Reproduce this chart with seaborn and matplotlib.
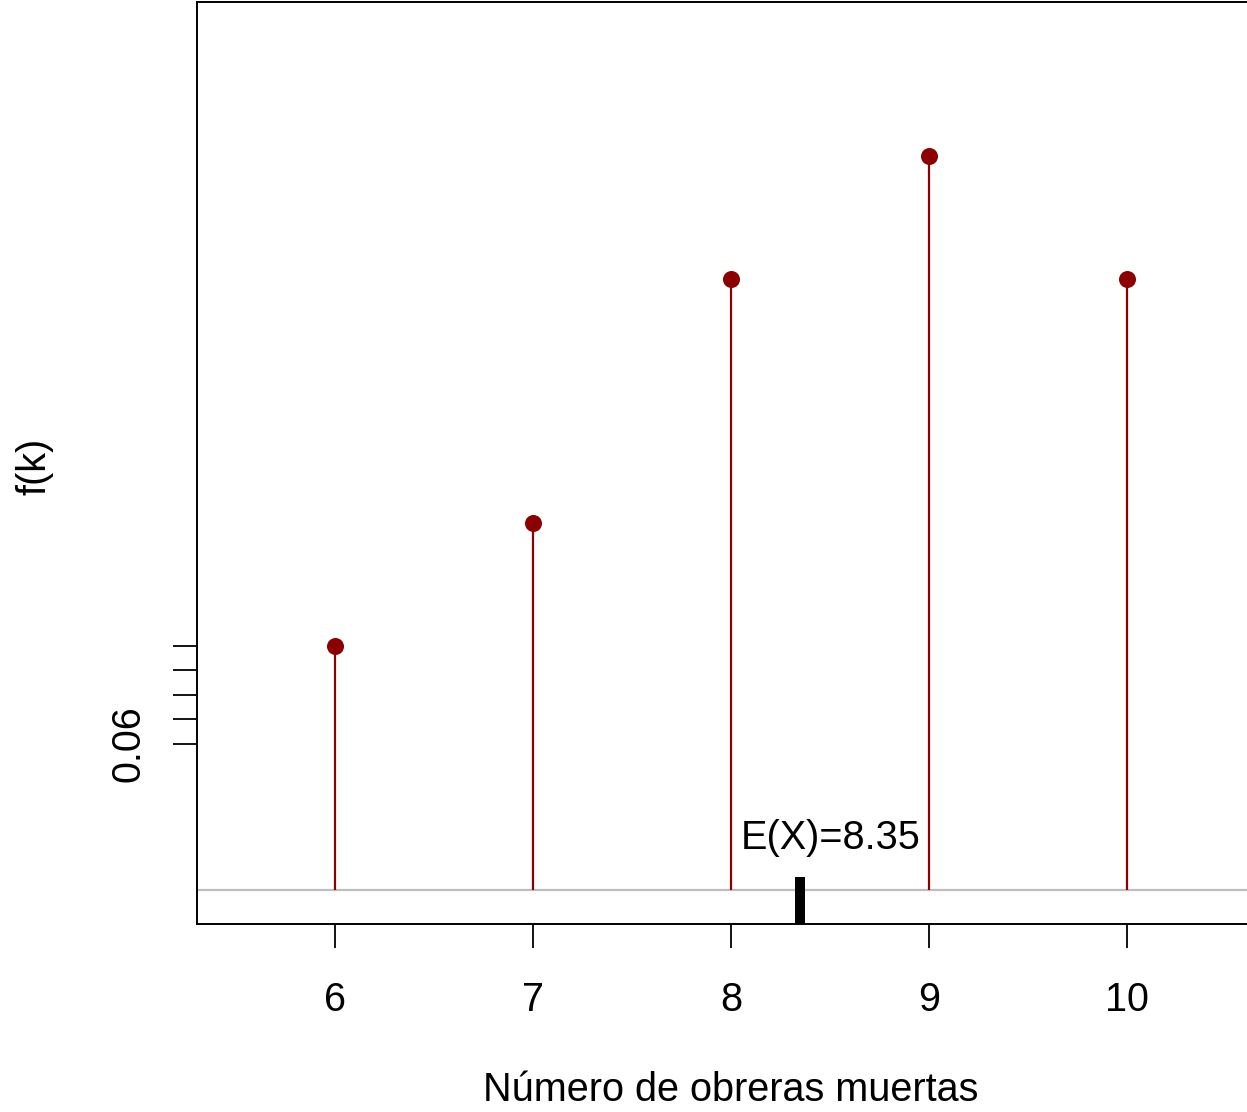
import matplotlib
matplotlib.use("Agg")
import matplotlib.pyplot as plt
import seaborn as sns
import numpy as np
import pandas as pd

k_values = [6, 7, 8, 9, 10]
probs = [0.10, 0.15, 0.25, 0.30, 0.25]
expected = 8.35
expected_label = "E(X)=8.35"
y_ticks = [0.06, 0.07, 0.08, 0.09, 0.10]
y_tick_labels = ["0.06", "", "", "", ""]
x_label = "Número de obreras muertas"
y_label = "f(k)"

sns.set_style("white")
plt.rcParams['font.family'] = ['Liberation Sans', 'DejaVu Sans']
plt.rcParams['text.color'] = 'black'
plt.rcParams['xtick.color'] = 'black'
plt.rcParams['ytick.color'] = 'black'

FS = 28.5
W, H = 1247, 1112
fig = plt.figure(figsize=(W / 100, H / 100), dpi=100)
left_px, right_px, top_px, bottom_px = 197, 1265, 2, 924
ax = fig.add_axes([left_px / W, (H - bottom_px) / H,
                   (right_px - left_px) / W, (bottom_px - top_px) / H])

df = pd.DataFrame({"k": k_values, "p": probs})
dark_red = "#8B0000"

ax.axhline(0, color="#bebebe", lw=1.6, zorder=1)
ax.vlines(df["k"], 0, df["p"], color=dark_red, lw=1.6, zorder=2)
sns.scatterplot(data=df, x="k", y="p", ax=ax, color=dark_red, s=150,
                edgecolor=dark_red, linewidth=0, zorder=3, legend=False)

ax.set_xlim(5.303, 10.697)
ax.set_ylim(-0.0137, 0.3631)

ax.vlines([expected], -0.0137, 0.0056, color="black", lw=7.2, zorder=4)
ax.text(8.05, 0.0215, expected_label, fontsize=FS, ha="left", va="center",
        color="black")

ax.set_xticks(k_values)
ax.set_xticklabels([str(v) for v in k_values])
ax.set_yticks(y_ticks)
ax.set_yticklabels(y_tick_labels, rotation=90, va="center")
ax.tick_params(axis="both", direction="out", length=17, width=1.3,
               labelsize=FS, color="black", labelcolor="black",
               left=True, bottom=True)
ax.tick_params(axis="x", pad=24)
ax.tick_params(axis="y", pad=19)
for s in ax.spines.values():
    s.set_color("black")
    s.set_linewidth(1.4)

ax.set_xlabel("")
ax.set_ylabel("")
fig.text(731 / W, 1 - 1090 / H, x_label, fontsize=FS, ha="center", va="center",
         color="black")
fig.text(35 / W, 1 - 466 / H, y_label, fontsize=FS, ha="center", va="center",
         rotation=90, color="black")

fig.savefig("out.png", dpi=100)
